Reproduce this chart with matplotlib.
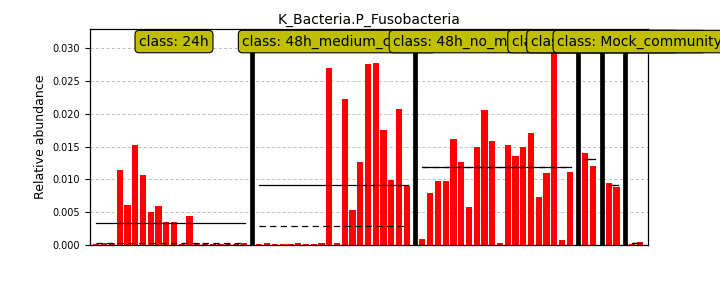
import numpy as np
import matplotlib
matplotlib.use('Agg')
import matplotlib.pyplot as plt

# relative abundance per sample, grouped by class
classes = ['24h', '48h_medium_control', '48h_no_medium_control',
           'Inoculum_control', 'Inoculum_medium', 'Mock_community']

v_24h = [0.00015, 0.0003, 0.0003, 0.0115, 0.0061, 0.0152, 0.0106, 0.0051,
         0.0060, 0.0035, 0.0035, 0.0002, 0.0044, 0.0003, 0.00015, 0.00015,
         0.0002, 0.00015, 0.0002, 0.0003]
v_48h_med = [0.00015, 0.0003, 0.00015, 0.00015, 0.00015, 0.0003, 0.00015,
             0.00015, 0.0003, 0.0270, 0.0003, 0.0222, 0.0054, 0.0126, 0.0276,
             0.0278, 0.0176, 0.0099, 0.0207, 0.0090]
v_48h_nomed = [0.0009, 0.0080, 0.0098, 0.0097, 0.0162, 0.0127, 0.0058, 0.0150,
               0.0205, 0.0158, 0.0003, 0.0152, 0.0136, 0.0150, 0.0170, 0.0074,
               0.0110, 0.0322, 0.0008, 0.0112]
v_inoc_ctrl = [0.0141, 0.0121]
v_inoc_med = [0.0095, 0.0089]
v_mock = [0.00015, 0.00046]

groups = [v_24h, v_48h_med, v_48h_nomed, v_inoc_ctrl, v_inoc_med, v_mock]

yticks = [0.000, 0.005, 0.010, 0.015, 0.020, 0.025, 0.030]


def main():
    fig = plt.figure(figsize=(7.2, 2.88), dpi=100)
    ax = fig.add_axes([0.125, 0.149, 0.775, 0.75])

    ax.yaxis.grid(True, color='#bbbbbb', linestyle=(0, (3, 2.5)), linewidth=0.7)
    ax.set_axisbelow(True)

    pos = 0
    seps = []
    for k, (cl, vals) in enumerate(zip(classes, groups)):
        x = np.arange(pos, pos + len(vals))
        ax.bar(x, vals, width=0.8, align='edge', color='#ff0000',
               edgecolor='none', zorder=2)
        m = np.mean(vals)
        md = np.median(vals)
        ax.plot([x[0] + 0.4, x[-1] + 0.6], [m, m], 'k-', lw=0.9, zorder=3)
        ax.plot([x[0] + 0.4, x[-1] + 0.6], [md, md], color='k', lw=0.9,
                linestyle=(0, (5, 3.5)), zorder=3)
        xc = (x[0] + x[-1]) / 2.0 + 0.9
        ax.text(xc, 0.0310, 'class: ' + cl, ha='center', va='center',
                fontsize=10, zorder=10 + k, clip_on=False,
                bbox=dict(boxstyle='round,pad=0.3', fc='#bfbf00', ec='k',
                          lw=0.8))
        pos += len(vals)
        if k < len(groups) - 1:
            seps.append(pos + 0.5)
            pos += 1

    for s in seps:
        ax.axvline(s, color='k', lw=3.4, zorder=4)

    ax.set_xlim(-0.42, 71.47)
    ax.set_ylim(0, 0.0329)
    ax.set_xticks([])
    ax.set_yticks(yticks)
    ax.set_yticklabels([f'{t:.3f}' for t in yticks], fontsize=7)
    ax.tick_params(axis='y', length=3.5, width=0.8)
    ax.set_ylabel('Relative abundance', fontsize=9)
    ax.set_title('K_Bacteria.P_Fusobacteria', fontsize=10, pad=3.5)
    for sp in ax.spines.values():
        sp.set_linewidth(0.9)

    fig.savefig('out.png', dpi=100)


if __name__ == '__main__':
    main()
